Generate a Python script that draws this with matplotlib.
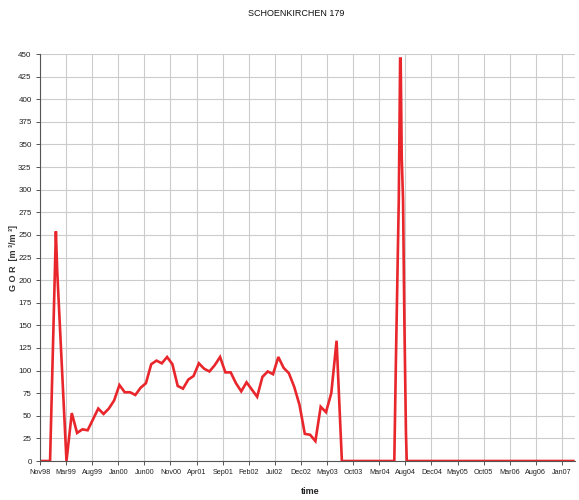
import matplotlib
matplotlib.use("Agg")
import matplotlib.pyplot as plt
import numpy as np

# months since Nov 1998 and GOR values [m3/m3]
months = [0, 1.9, 3.0, 3.25, 5.0, 6, 7, 8, 9, 10, 11, 12, 13, 14, 15, 16, 17, 18, 19, 20,
          21, 22, 23, 24, 25, 26, 27, 28, 29, 30, 31, 32, 33, 34, 35, 36, 37, 38, 39, 40,
          41, 42, 43, 44, 45, 46, 47, 48, 49, 50, 51, 52, 53, 54, 55, 56, 57,
          66.9, 67.2, 67.55, 67.75, 68.0, 68.1, 68.2, 68.3, 68.55, 68.8, 69.1, 69.25, 100.7]
gor = [0, 0, 254, 210, 0, 53, 31, 35, 34, 46, 58, 52, 58, 67, 84, 76, 76, 73, 81, 86,
       107, 111, 108, 115, 107, 83, 80, 90, 94, 108, 102, 99, 106, 115, 98, 98, 86, 77, 87, 79,
       71, 93, 99, 96, 115, 103, 97, 82, 62, 30, 29, 22, 60, 54, 75, 133, 0,
       0, 110, 225, 290, 445, 445, 392, 336, 289, 156, 31, 0, 0]
tick_labels = ["Nov98", "Mar99", "Aug99", "Jan00", "Jun00", "Nov00", "Apr01", "Sep01",
               "Feb02", "Jul02", "Dec02", "May03", "Oct03", "Mar04", "Aug04", "Dec04",
               "May05", "Oct05", "Mar06", "Aug06", "Jan07"]
yticks = list(range(0, 451, 25))

days = np.array(months) * 30.44
tick_days = np.arange(len(tick_labels)) * 150

fam = ["Liberation Sans Narrow", "Liberation Sans", "DejaVu Sans"]
plt.rcParams['font.family'] = fam

fig = plt.figure(figsize=(5.79, 5.0), dpi=100)
ax = fig.add_axes([40/579, 1-461/500, 535/579, 407/500])
ax.plot(days, gor, color="#e8262b", lw=1.9, solid_joinstyle="miter")
ax.set_xlim(0, 3075)
ax.set_ylim(0, 450)
ax.set_xticks(tick_days)
ax.set_xticklabels(tick_labels, fontsize=5.2, color="#222222")
ax.set_yticks(yticks)
ax.set_yticklabels([str(v) for v in yticks], fontsize=5.8, color="#222222")
ax.grid(True, color="#cccccc", lw=0.8)
ax.set_axisbelow(True)
for s in ["top", "right"]:
    ax.spines[s].set_visible(False)
for s in ["left", "bottom"]:
    ax.spines[s].set_color("#555555")
    ax.spines[s].set_linewidth(0.8)
ax.tick_params(axis="both", length=3, width=0.7, color="#555555", pad=3)

fig.text(296.5/579, 1-14/500, "SCHOENKIRCHEN 179", ha="center", va="center",
         fontsize=6.5, color="#111111")
fig.text(13/579, 1-258/500, "G O R  [m \u00b3/m \u00b3]", rotation=90, ha="center", va="center",
         fontsize=6.5, fontweight="bold", color="#333333")
fig.text(310/579, 1-491/500, "time", ha="center", va="center",
         fontsize=6.5, fontweight="bold", color="#222222")

fig.savefig("out.png", dpi=100)
